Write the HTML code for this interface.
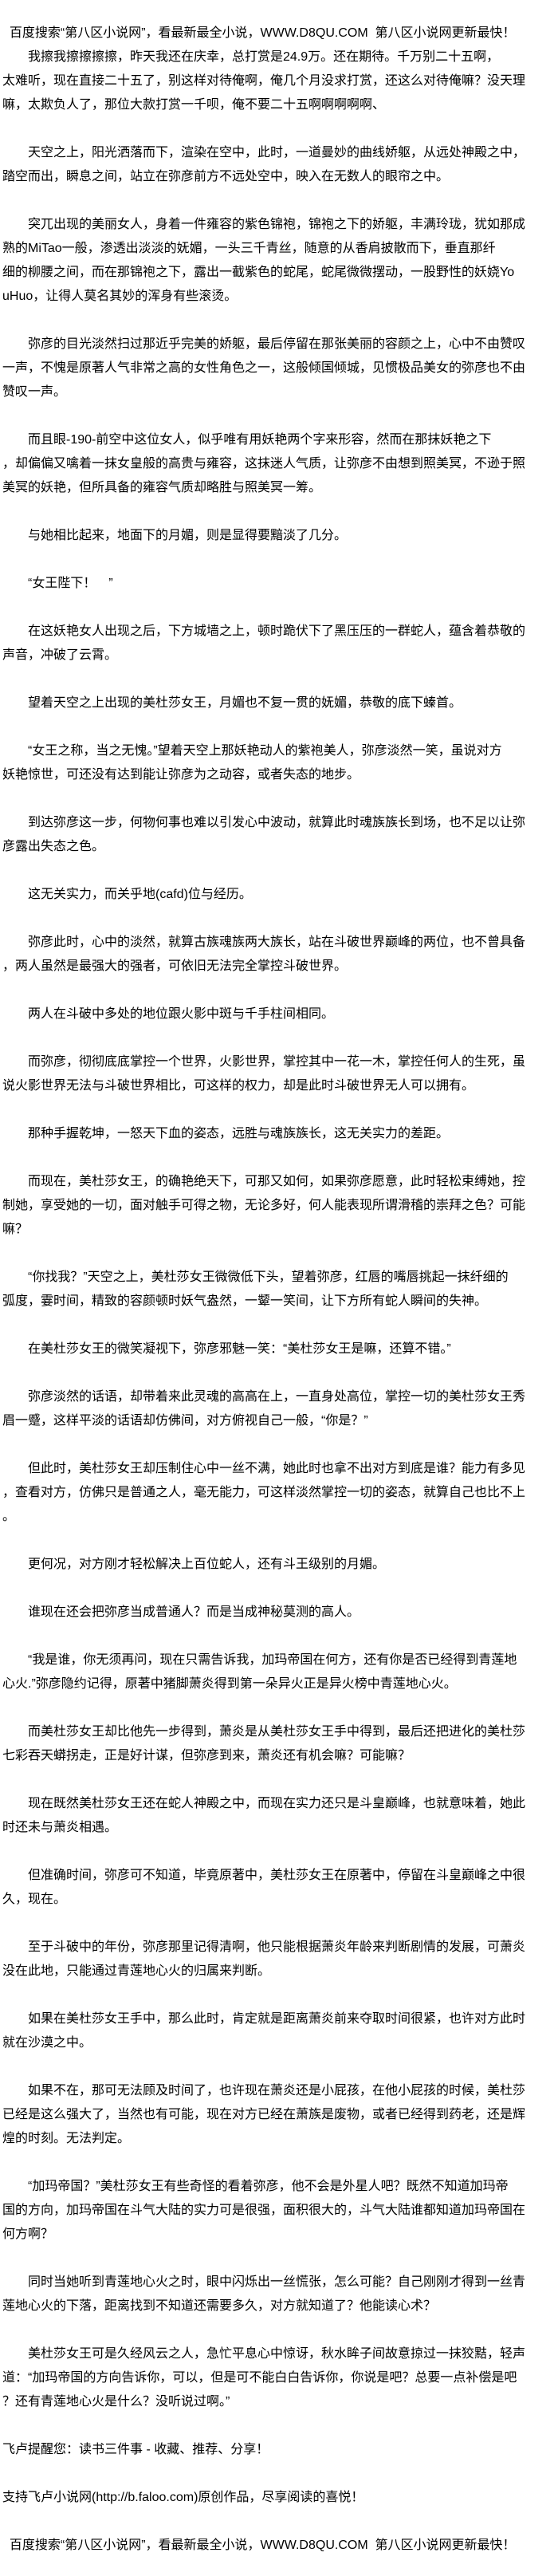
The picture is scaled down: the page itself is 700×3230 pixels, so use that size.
<!DOCTYPE html>
<html><head><meta charset="utf-8"><style>
html,body{margin:0;padding:0;background:#fff;}
body{width:700px;height:3230px;overflow:hidden;position:relative;}
#t{position:absolute;left:3px;top:27px;font-family:"Liberation Sans","Noto Sans CJK SC","WenQuanYi Zen Hei",sans-serif;font-size:16px;line-height:30px;color:#000;white-space:pre;}
</style></head><body><div id="t">  百度搜索“第八区小说网”，看最新最全小说，WWW.D8QU.COM  第八区小说网更新最快！
　　我擦我擦擦擦擦，昨天我还在庆幸，总打赏是24.9万。还在期待。千万别二十五啊，
太难听，现在直接二十五了，别这样对待俺啊，俺几个月没求打赏，还这么对待俺嘛？没天理
嘛，太欺负人了，那位大款打赏一千呗，俺不要二十五啊啊啊啊啊、

　　天空之上，阳光洒落而下，渲染在空中，此时，一道曼妙的曲线娇躯，从远处神殿之中，
踏空而出，瞬息之间，站立在弥彦前方不远处空中，映入在无数人的眼帘之中。

　　突兀出现的美丽女人，身着一件雍容的紫色锦袍，锦袍之下的娇躯，丰满玲珑，犹如那成
熟的MiTao一般，渗透出淡淡的妩媚，一头三千青丝，随意的从香肩披散而下，垂直那纤
细的柳腰之间，而在那锦袍之下，露出一截紫色的蛇尾，蛇尾微微摆动，一股野性的妖娆Yo
uHuo，让得人莫名其妙的浑身有些滚烫。

　　弥彦的目光淡然扫过那近乎完美的娇躯，最后停留在那张美丽的容颜之上，心中不由赞叹
一声，不愧是原著人气非常之高的女性角色之一，这般倾国倾城，见惯极品美女的弥彦也不由
赞叹一声。

　　而且眼-190-前空中这位女人，似乎唯有用妖艳两个字来形容，然而在那抹妖艳之下
，却偏偏又噙着一抹女皇般的高贵与雍容，这抹迷人气质，让弥彦不由想到照美冥，不逊于照
美冥的妖艳，但所具备的雍容气质却略胜与照美冥一筹。

　　与她相比起来，地面下的月媚，则是显得要黯淡了几分。

　　“女王陛下！　”

　　在这妖艳女人出现之后，下方城墙之上，顿时跪伏下了黑压压的一群蛇人，蕴含着恭敬的
声音，冲破了云霄。

　　望着天空之上出现的美杜莎女王，月媚也不复一贯的妩媚，恭敬的底下螓首。

　　“女王之称，当之无愧。”望着天空上那妖艳动人的紫袍美人，弥彦淡然一笑，虽说对方
妖艳惊世，可还没有达到能让弥彦为之动容，或者失态的地步。

　　到达弥彦这一步，何物何事也难以引发心中波动，就算此时魂族族长到场，也不足以让弥
彦露出失态之色。

　　这无关实力，而关乎地(cafd)位与经历。

　　弥彦此时，心中的淡然，就算古族魂族两大族长，站在斗破世界巅峰的两位，也不曾具备
，两人虽然是最强大的强者，可依旧无法完全掌控斗破世界。

　　两人在斗破中多处的地位跟火影中斑与千手柱间相同。

　　而弥彦，彻彻底底掌控一个世界，火影世界，掌控其中一花一木，掌控任何人的生死，虽
说火影世界无法与斗破世界相比，可这样的权力，却是此时斗破世界无人可以拥有。

　　那种手握乾坤，一怒天下血的姿态，远胜与魂族族长，这无关实力的差距。

　　而现在，美杜莎女王，的确艳绝天下，可那又如何，如果弥彦愿意，此时轻松束缚她，控
制她，享受她的一切，面对触手可得之物，无论多好，何人能表现所谓滑稽的崇拜之色？可能
嘛？

　　“你找我？”天空之上，美杜莎女王微微低下头，望着弥彦，红唇的嘴唇挑起一抹纤细的
弧度，霎时间，精致的容颜顿时妖气盎然，一颦一笑间，让下方所有蛇人瞬间的失神。

　　在美杜莎女王的微笑凝视下，弥彦邪魅一笑：“美杜莎女王是嘛，还算不错。”

　　弥彦淡然的话语，却带着来此灵魂的高高在上，一直身处高位，掌控一切的美杜莎女王秀
眉一蹙，这样平淡的话语却仿佛间，对方俯视自己一般，“你是？”

　　但此时，美杜莎女王却压制住心中一丝不满，她此时也拿不出对方到底是谁？能力有多见
，查看对方，仿佛只是普通之人，毫无能力，可这样淡然掌控一切的姿态，就算自己也比不上
。

　　更何况，对方刚才轻松解决上百位蛇人，还有斗王级别的月媚。

　　谁现在还会把弥彦当成普通人？而是当成神秘莫测的高人。

　　“我是谁，你无须再问，现在只需告诉我，加玛帝国在何方，还有你是否已经得到青莲地
心火.”弥彦隐约记得，原著中猪脚萧炎得到第一朵异火正是异火榜中青莲地心火。

　　而美杜莎女王却比他先一步得到，萧炎是从美杜莎女王手中得到，最后还把进化的美杜莎
七彩吞天蟒拐走，正是好计谋，但弥彦到来，萧炎还有机会嘛？可能嘛？

　　现在既然美杜莎女王还在蛇人神殿之中，而现在实力还只是斗皇巅峰，也就意味着，她此
时还未与萧炎相遇。

　　但准确时间，弥彦可不知道，毕竟原著中，美杜莎女王在原著中，停留在斗皇巅峰之中很
久，现在。

　　至于斗破中的年份，弥彦那里记得清啊，他只能根据萧炎年龄来判断剧情的发展，可萧炎
没在此地，只能通过青莲地心火的归属来判断。

　　如果在美杜莎女王手中，那么此时，肯定就是距离萧炎前来夺取时间很紧，也许对方此时
就在沙漠之中。

　　如果不在，那可无法顾及时间了，也许现在萧炎还是小屁孩，在他小屁孩的时候，美杜莎
已经是这么强大了，当然也有可能，现在对方已经在萧族是废物，或者已经得到药老，还是辉
煌的时刻。无法判定。

　　“加玛帝国？”美杜莎女王有些奇怪的看着弥彦，他不会是外星人吧？既然不知道加玛帝
国的方向，加玛帝国在斗气大陆的实力可是很强，面积很大的，斗气大陆谁都知道加玛帝国在
何方啊？

　　同时当她听到青莲地心火之时，眼中闪烁出一丝慌张，怎么可能？自己刚刚才得到一丝青
莲地心火的下落，距离找到不知道还需要多久，对方就知道了？他能读心术？

　　美杜莎女王可是久经风云之人，急忙平息心中惊讶，秋水眸子间故意掠过一抹狡黠，轻声
道：“加玛帝国的方向告诉你，可以，但是可不能白白告诉你，你说是吧？总要一点补偿是吧
？还有青莲地心火是什么？没听说过啊。”

飞卢提醒您：读书三件事 - 收藏、推荐、分享！

支持飞卢小说网(http://b.faloo.com)原创作品，尽享阅读的喜悦！

  百度搜索“第八区小说网”，看最新最全小说，WWW.D8QU.COM  第八区小说网更新最快！</div></body></html>
